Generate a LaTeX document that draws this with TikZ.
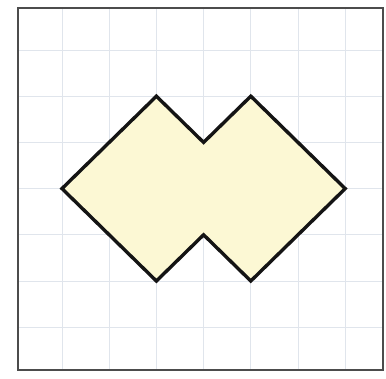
\documentclass[tikz,border=0pt]{standalone}
\definecolor{gridcol}{RGB}{224,229,236}
\definecolor{fillcol}{RGB}{252,248,212}
\begin{document}
\begin{tikzpicture}[x=1pt,y=-1pt,
  gridline/.style={draw=gridcol, line width=1pt},
  framebox/.style={draw=black!70, line width=2.4pt},
  figshape/.style={draw=black!92, line width=3.4pt, fill=fillcol, line join=miter}]
\useasboundingbox (0,0) rectangle (386,378);
% grid
\foreach \i in {0,...,6} {
  \draw[gridline] ({62+47.2*\i},7) -- ({62+47.2*\i},370);
  \draw[gridline] (18,{50+46.2*\i}) -- (383,{50+46.2*\i});
}
% shape vertices
\coordinate (L) at (62,188.6);
\coordinate (TL) at (156.4,96.2);
\coordinate (NT) at (203.6,142.4);
\coordinate (TR) at (250.8,96.2);
\coordinate (R) at (345.2,188.6);
\coordinate (BR) at (250.8,281);
\coordinate (NB) at (203.6,234.8);
\coordinate (BL) at (156.4,281);
\draw[figshape] (L) -- (TL) -- (NT) -- (TR) -- (R) -- (BR) -- (NB) -- (BL) -- cycle;
% frame
\draw[framebox] (18,8) rectangle (383,370);
\end{tikzpicture}
\end{document}
